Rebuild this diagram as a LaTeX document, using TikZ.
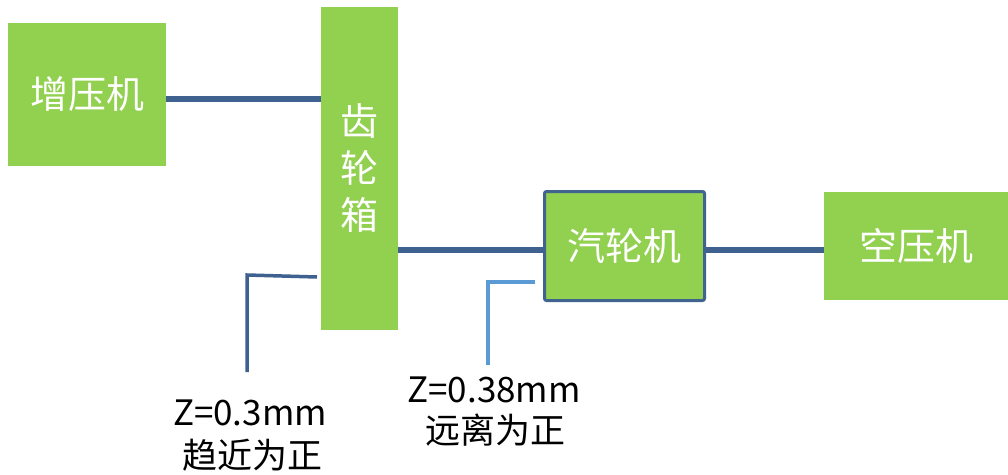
\documentclass[tikz,border=0pt]{standalone}
\usepackage{fontspec}
\setmainfont{Noto Sans CJK SC}
\usetikzlibrary{calc}
\definecolor{boxgreen}{HTML}{92D050}
\definecolor{darkline}{HTML}{3F6190}
\definecolor{lightline}{HTML}{5B9BD5}
\definecolor{qborder}{HTML}{41648F}
\tikzset{
  box/.style={rectangle, fill=boxgreen, inner sep=0pt, text=white, font=\fontsize{38}{38}\selectfont},
  shaft/.style={draw=darkline, line width=5.5pt},
  leader/.style={line width=3.5pt},
  note/.style={inner sep=0pt, text=black, font=\fontsize{35}{35}\selectfont}
}
\begin{document}
\begin{tikzpicture}[x=1pt,y=-1pt]
\useasboundingbox (0,0) rectangle (1008,474);
\node[box, minimum width=158pt, minimum height=143pt] (zy) at (87,94.5) {增压机};
\node[box, minimum width=77pt, minimum height=323pt, align=center, font=\fontsize{38}{47}\selectfont] (gb) at (359.5,168.5) {齿\\轮\\箱};
\node[box, minimum width=160pt, minimum height=109pt, draw=qborder, line width=3pt, rounded corners=2pt] (qlj) at (624.5,246) {汽轮机};
\node[box, minimum width=184pt, minimum height=108pt] (kyj) at (916,246) {空压机};
\path ([yshift=-4.5pt]zy.east) coordinate (a1);
\draw[shaft] (a1) -- (a1 -| gb.west);
\path ([yshift=-4pt]qlj.west) coordinate (a2);
\draw[shaft] (a2 -| gb.east) -- (a2);
\draw[shaft] ([yshift=-4pt]qlj.east) -- ([yshift=-4pt]kyj.west);
\coordinate (l1) at (317,277);
\coordinate (l2) at (247,275);
\coordinate (l3) at (247,372);
\draw[leader, draw=darkline] (l1) -- (l2) -- (l3);
\coordinate (r1) at (535,282);
\coordinate (r2) at (488,282);
\coordinate (r3) at (488,365);
\draw[leader, draw=lightline] (r1) -- (r2) -- (r3);
\node[note] (t1) at (250,413) {Z=0.3mm};
\node[note] (t2) at (252,455) {趋近为正};
\node[note] (t3) at (494,390) {Z=0.38mm};
\node[note] (t4) at (495,430) {远离为正};
\end{tikzpicture}
\end{document}
